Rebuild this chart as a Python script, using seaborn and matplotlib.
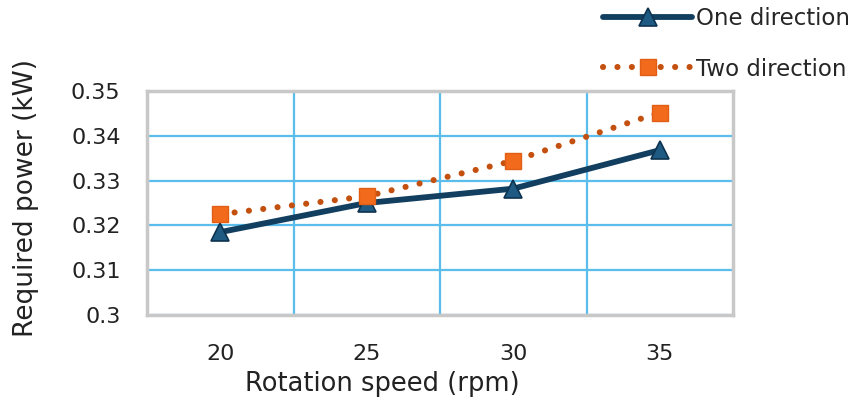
import matplotlib
matplotlib.use("Agg")
import matplotlib.pyplot as plt
import seaborn as sns
import pandas as pd
import numpy as np

speeds = ["20", "25", "30", "35"]
one_direction = [0.3185, 0.3250, 0.3282, 0.3368]
two_direction = [0.3225, 0.3265, 0.3344, 0.3452]
y_ticks = [0.30, 0.31, 0.32, 0.33, 0.34, 0.35]
y_tick_labels = ["0.3", "0.31", "0.32", "0.33", "0.34", "0.35"]

sns.set_theme(style="white")
plt.rcParams['font.family'] = ['DejaVu Sans']

df1 = pd.DataFrame({"speed": speeds, "power": one_direction})
df2 = pd.DataFrame({"speed": speeds, "power": two_direction})

W, H = 859, 401
fig = plt.figure(figsize=(W/100, H/100), dpi=100)
ax = fig.add_axes([147/W, 1 - 315/H, (733-147)/W, (315-91)/H])

sns.lineplot(data=df1, x="speed", y="power", ax=ax, color="#123F60", linewidth=4.2,
             marker="^", markersize=12.5, markerfacecolor="#1E5A82",
             markeredgecolor="#0E3350", markeredgewidth=1.2, label="One direction",
             sort=False, zorder=3)
sns.lineplot(data=df2, x="speed", y="power", ax=ax, color="#C4500F", linewidth=4.4,
             linestyle=(0, (0.01, 2.35)),
             marker="s", markersize=12, markerfacecolor="#F26B1D",
             markeredgecolor="#E25E14", markeredgewidth=1.0, label="Two direction",
             sort=False, zorder=4)
for ln in ax.lines:
    ln.set_dash_capstyle("round")
    ln.set_solid_capstyle("round")

ax.set_xlim(-0.5, 3.5)
ax.set_ylim(0.30, 0.35)
ax.set_yticks(y_ticks)
ax.set_yticklabels(y_tick_labels)
ax.set_xticks(range(len(speeds)))
ax.set_xticklabels(speeds)
ax.set_xticks([0.5, 1.5, 2.5], minor=True)

ax.grid(False)
ax.yaxis.grid(True, which="major", color="#5BBDEB", linewidth=1.6)
ax.xaxis.grid(True, which="minor", color="#5BBDEB", linewidth=1.6)
ax.set_axisbelow(True)
ax.tick_params(axis="both", which="both", length=0, labelsize=16, colors="#222222")
ax.tick_params(axis="y", pad=19)
ax.tick_params(axis="x", pad=21)

for s in ax.spines.values():
    s.set_visible(True)
    s.set_color("#C8C8C8")
    s.set_linewidth(2.5)

ax.set_xlabel("Rotation speed (rpm)", fontsize=18.5, color="#222222")
ax.set_ylabel("Required power (kW)", fontsize=19, color="#222222")
ax.xaxis.set_label_coords((382-147)/586, -(384-315)/224, transform=ax.transAxes)
ax.xaxis.label.set_va("center")
ax.yaxis.set_label_coords(-(147-26)/586, (315-198)/224, transform=ax.transAxes)
ax.yaxis.label.set_va("center")

handles, labels = ax.get_legend_handles_labels()
ax.get_legend().remove()
fig.legend(handles, labels, loc="upper left", bbox_to_anchor=(603/W, 1 - 7/H),
           frameon=False, fontsize=16.5, handlelength=3.9, labelspacing=1.2,
           handletextpad=0.15, borderpad=0, borderaxespad=0)

fig.savefig("out.png", dpi=100)
